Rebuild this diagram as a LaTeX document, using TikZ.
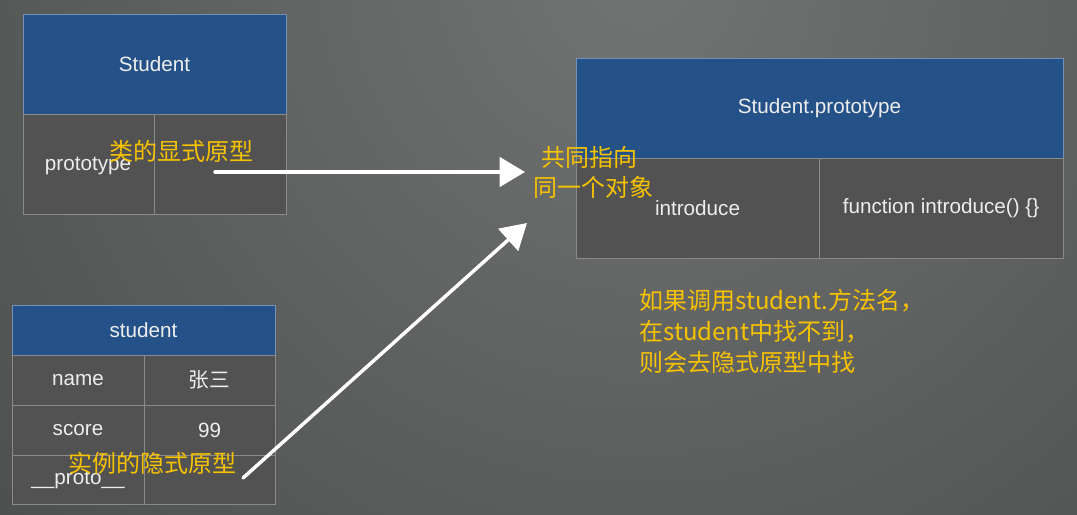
\documentclass[tikz,border=0pt]{standalone}
\usepackage{fontspec}
\setmainfont{Liberation Sans}
\newfontfamily\cjk{Noto Sans CJK SC}
\usetikzlibrary{arrows.meta}
\definecolor{bglight}{HTML}{727474}
\definecolor{bgdark}{HTML}{262626}
\definecolor{hdr}{HTML}{245187}
\definecolor{hdrline}{HTML}{7591B5}
\definecolor{cellgray}{HTML}{525252}
\definecolor{cellline}{HTML}{8A8A8A}
\definecolor{celltext}{HTML}{EDEDED}
\definecolor{note}{HTML}{F7C200}
\newcommand\mycell[7]{%
  \node[#6, minimum width={(#4-#2)*0.75pt}, minimum height={(#5-#3)*0.75pt}]
    (#1) at ({(#2+#4)/2},{(#3+#5)/2}) {#7};}
\tikzset{
  cellbase/.style={draw=cellline, line width=0.75pt, inner sep=0pt, outer sep=0pt,
    text=celltext, font=\fontsize{15.5}{18}\selectfont},
  hdrbox/.style={cellbase, fill=hdr, draw=hdrline},
  bodybox/.style={cellbase, fill=cellgray},
  notetext/.style={text=note, font=\cjk\fontsize{18}{23.25}\selectfont, inner sep=0pt},
  chalk/.style={draw=white, line width=2.6pt, line cap=round,
    -{Triangle[length=19pt,width=22pt]}}
}
\begin{document}
\begin{tikzpicture}[x=0.75pt,y=-0.75pt]
\useasboundingbox (0,0) rectangle (1077,514);
\begin{scope}
  \clip (0,0) rectangle (1077,514);
  \fill[bgdark] (0,0) rectangle (1077,514);
  \shade[inner color=bglight, outer color=bgdark] (640,-30) circle (1350pt);
\end{scope}

% Student class
\mycell{sh}{23}{14}{286}{114}{hdrbox}{Student}
\mycell{sp}{23}{114}{154}{214}{bodybox}{}
\mycell{sv}{154}{114}{286}{214}{bodybox}{}
\node[text=celltext, font=\fontsize{15.5}{18}\selectfont] (spt) at (88,166) {prototype};

% Student.prototype
\mycell{ph}{576}{58}{1063}{158}{hdrbox}{Student.prototype}
\mycell{pk}{576}{158}{819}{258}{bodybox}{introduce}
\mycell{pv}{819}{158}{1063}{258}{bodybox}{function introduce() \{\}}

% student instance
\mycell{ih}{12}{305}{275}{355}{hdrbox}{student}
\mycell{in}{12}{355}{144}{405}{bodybox}{name}
\mycell{inv}{144}{355}{275}{405}{bodybox}{\cjk 张三}
\mycell{is}{12}{405}{144}{455}{bodybox}{score}
\mycell{isv}{144}{405}{275}{455}{bodybox}{99}
\mycell{ip}{12}{455}{144}{504}{bodybox}{}
\mycell{ipv}{144}{455}{275}{504}{bodybox}{}
\node[text=celltext, font=\fontsize{15.5}{18}\selectfont] (ipt) at (78,480) {\_\_proto\_\_};

% arrows
\coordinate (a1s) at (215,172);
\coordinate (a1e) at (525,172);
\coordinate (a2s) at (243,478);
\coordinate (a2e) at (527,223);
\draw[chalk] (a1s) -- (a1e);
\draw[chalk] (a2s) -- (a2e);

% notes
\node[notetext] (n1) at (181,151) {类的显式原型};
\node[notetext, anchor=west] (n2) at (541,157) {共同指向};
\node[notetext, anchor=west] (n3) at (533,187) {同一个对象};
\node[notetext] (n4) at (152,463) {实例的隐式原型};
\node[notetext, anchor=west, align=left] (n5) at (639,331)
  {如果调用student.方法名，\\在student中找不到，\\则会去隐式原型中找};
\end{tikzpicture}
\end{document}
